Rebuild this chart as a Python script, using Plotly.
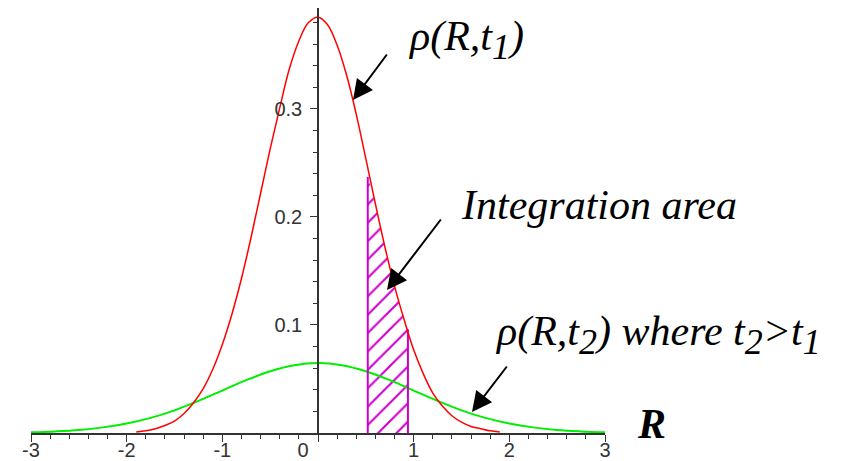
import plotly.graph_objects as go

# ---------------- data ----------------
R_T1 = [-1.9, -1.8, -1.7, -1.6, -1.5, -1.4, -1.3, -1.2, -1.1, -1.0,
        -0.9, -0.8, -0.7, -0.6, -0.5, -0.4, -0.3, -0.2, -0.1, 0.0,
        0.1, 0.2, 0.3, 0.4, 0.5, 0.6, 0.7, 0.8, 0.9, 1.0,
        1.1, 1.2, 1.3, 1.4, 1.5, 1.6, 1.7, 1.8, 1.9]
RHO_T1 = [0.001, 0.002, 0.004, 0.007, 0.011, 0.018, 0.028, 0.041, 0.059, 0.082,
          0.110, 0.143, 0.181, 0.222, 0.263, 0.301, 0.337, 0.363, 0.380, 0.385,
          0.378, 0.359, 0.331, 0.295, 0.254, 0.212, 0.172, 0.136, 0.105, 0.077,
          0.055, 0.037, 0.025, 0.016, 0.010, 0.006, 0.004, 0.002, 0.001]

R_T2 = [-3.0, -2.75, -2.5, -2.25, -2.0, -1.75, -1.5, -1.25, -1.0, -0.75, -0.5, -0.25,
        0.0, 0.25, 0.5, 0.75, 1.0, 1.25, 1.5, 1.75, 2.0, 2.25, 2.5, 2.75, 3.0]
RHO_T2 = [0.0007, 0.0015, 0.0028, 0.0052, 0.0088, 0.0140, 0.0210, 0.0297, 0.0393, 0.0489, 0.0572, 0.0628,
          0.0648, 0.0628, 0.0572, 0.0489, 0.0393, 0.0297, 0.0210, 0.0140, 0.0088, 0.0052, 0.0028, 0.0015, 0.0007]

HATCH_R = [0.52, 0.6, 0.7, 0.8, 0.9, 0.94]
HATCH_RHO = [0.237, 0.212, 0.172, 0.136, 0.105, 0.096]

X_RANGE = [-3, 3]
Y_RANGE = [0, 0.3935]
X_TICKS = [-3, -2, -1, 0, 1, 2, 3]
X_TICK_LABELS = ["-3", "-2", "-1", "0\u2002\u2002\u2002", "1", "2", "3"]
Y_TICKS = [0.1, 0.2, 0.3]
Y_TICK_LABELS = ["0.1", "0.2", "0.3"]

# ---------------- layout geometry ----------------
W, H = 848, 461
ML, MR, MT, MB = 31, 243, 8, 28
PW, PH = W - ML - MR, H - MT - MB


def px_x(p):
    return (p - ML) / PW


def px_y(p):
    return (MT + PH - p) / PH


AX = "#333333"
MAGENTA = "#cc00cc"
SERIF = "Liberation Serif"
TICKFONT = dict(family="Liberation Sans", size=20, color="#333333")

fig = go.Figure()

# hatched integration area
fig.add_trace(go.Scatter(
    x=[HATCH_R[0]] + HATCH_R + [HATCH_R[-1]],
    y=[0] + HATCH_RHO + [0],
    mode="lines", line=dict(width=0, color=MAGENTA),
    fill="toself", fillcolor="rgba(0,0,0,0)",
    fillpattern=dict(shape="/", fgcolor=MAGENTA, bgcolor="rgba(0,0,0,0)",
                     size=13, solidity=0.16, fillmode="replace"),
    hoverinfo="skip"))

# green curve
fig.add_trace(go.Scatter(x=R_T2, y=RHO_T2, mode="lines",
                         line=dict(color="#00ee00", width=2, shape="spline"),
                         hoverinfo="skip"))

# vertical edges of hatched area
fig.add_trace(go.Scatter(
    x=[HATCH_R[0], HATCH_R[0], None, HATCH_R[-1], HATCH_R[-1]],
    y=[0, HATCH_RHO[0], None, HATCH_RHO[-1], 0],
    mode="lines", line=dict(color=MAGENTA, width=2), hoverinfo="skip"))

# red curve
fig.add_trace(go.Scatter(x=R_T1, y=RHO_T1, mode="lines",
                         line=dict(color="#ff0000", width=1.5, shape="spline"),
                         hoverinfo="skip"))

fig.update_xaxes(
    range=X_RANGE, showgrid=False, zeroline=False, automargin=False,
    showline=True, linecolor=AX, linewidth=1.5,
    tickmode="array", tickvals=X_TICKS, ticktext=X_TICK_LABELS,
    ticks="outside", ticklen=7, tickwidth=1, tickcolor=AX,
    tickfont=TICKFONT, ticklabelstandoff=-9,
    minor=dict(tickmode="linear", tick0=0, dtick=0.2, ticks="outside",
               ticklen=4, tickwidth=1, tickcolor=AX, showgrid=False),
)
fig.update_yaxes(
    range=Y_RANGE, showgrid=False, zeroline=False, automargin=False,
    anchor="free", position=(0 - X_RANGE[0]) / (X_RANGE[1] - X_RANGE[0]),
    showline=True, linecolor=AX, linewidth=1.5,
    tickmode="array", tickvals=Y_TICKS, ticktext=Y_TICK_LABELS,
    ticks="outside", ticklen=7, tickwidth=1, tickcolor=AX,
    tickfont=TICKFONT, ticklabelstandoff=4,
    minor=dict(tickmode="linear", tick0=0, dtick=0.02, ticks="outside",
               ticklen=4, tickwidth=1, tickcolor=AX, showgrid=False),
)

SUB = '<sub><span style="font-size:36px">{}</span></sub>'
ann_font = dict(family=SERIF, size=42, color="black", style="italic")
texts = [
    ("\u03c1(R,t" + SUB.format("1") + ")", 406, 11, ann_font),
    ("Integration area", 459, 180, ann_font),
    ("\u03c1(R,t" + SUB.format("2") + ") where t" + SUB.format("2") + "&gt;t" + SUB.format("1"),
     493, 306, ann_font),
    ("<b>R</b>", 635, 399, dict(ann_font, weight="bold")),
]
for txt, x0, y0, f in texts:
    fig.add_annotation(text=txt, xref="paper", yref="paper",
                       x=px_x(x0), y=px_y(y0), xanchor="left", yanchor="top",
                       showarrow=False, font=f)

arrows = [
    (353, 100, 35, -47),
    (387, 290, 55, -72),
    (472, 412, 36, -47),
]
for hx, hy, ax, ay in arrows:
    fig.add_annotation(text="", xref="paper", yref="paper",
                       x=px_x(hx), y=px_y(hy), ax=ax, ay=ay,
                       showarrow=True, arrowhead=2, arrowsize=2,
                       arrowwidth=2, arrowcolor="black")

fig.update_layout(
    width=W, height=H, autosize=False,
    margin=dict(l=ML, r=MR, t=MT, b=MB, pad=0),
    paper_bgcolor="white", plot_bgcolor="white",
    showlegend=False, template="none",
)

fig.write_html("out.html", config={"displayModeBar": False},
               post_script="document.body.style.margin='0';document.body.style.overflow='hidden';")
